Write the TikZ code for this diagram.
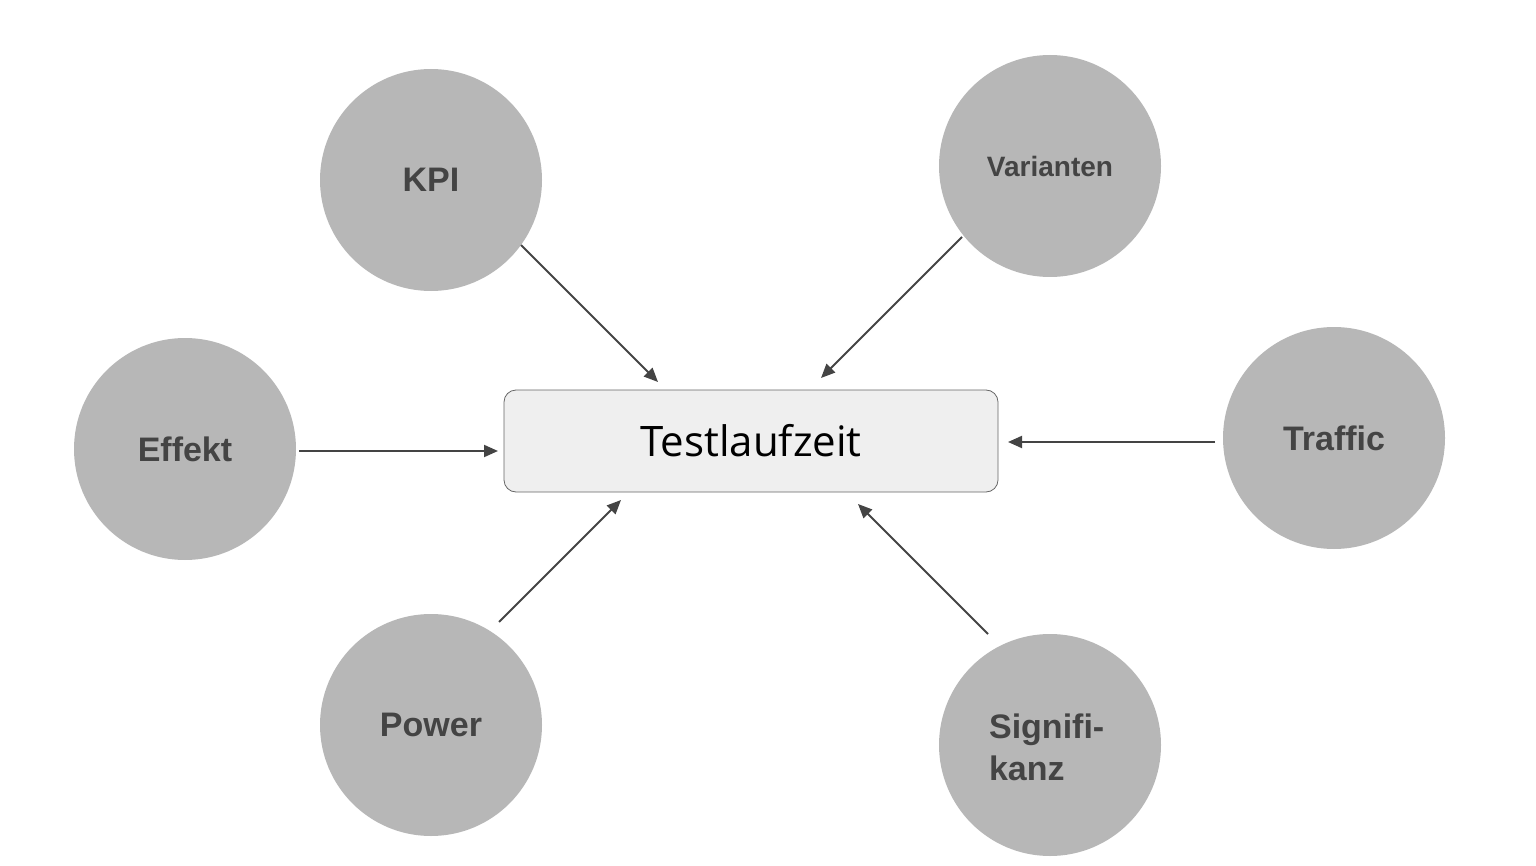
\documentclass[tikz,border=0pt]{standalone}
\usepackage{fontspec}
\setmainfont{Liberation Sans}
\newfontfamily\boxfont{Open Sans}
\usetikzlibrary{arrows.meta}
\definecolor{circfill}{HTML}{B7B7B7}
\definecolor{txtgray}{HTML}{444444}
\definecolor{boxfill}{HTML}{EFEFEF}
\tikzset{
  bubble/.style={circle,fill=circfill,minimum size=111pt,inner sep=0pt,text=txtgray,font=\bfseries\fontsize{17}{20}\selectfont},
  arr/.style={draw=txtgray,line width=1pt,-{Triangle[length=7pt,width=6pt]}}
}
\begin{document}
\begin{tikzpicture}[x=0.5pt,y=-0.5pt]
\useasboundingbox (0,0) rectangle (1536,866);
\node[bubble] (kpi) at (431,180) {KPI};
\node[bubble,font=\bfseries\fontsize{14}{17}\selectfont] (var) at (1050,166) {Varianten};
\node[bubble] (eff) at (185,449) {Effekt};
\node[bubble] (tra) at (1334,438) {Traffic};
\node[bubble] (pow) at (431,725) {Power};
\node[bubble] (sig) at (1050,745) {};
\node[text=txtgray,font=\bfseries\fontsize{17}{21}\selectfont,align=left,anchor=west] (sigt) at (982,747) {Signifi-\\kanz};
\node[draw=gray!80!black,fill=boxfill,rounded corners=6pt,minimum width=247pt,minimum height=51pt,font=\boxfont\fontsize{21}{24}\selectfont] (box) at (751,441) {Testlaufzeit};
\coordinate (a1) at (521,245); \coordinate (b1) at (658,382);
\coordinate (a2) at (962,237); \coordinate (b2) at (821,378);
\coordinate (a3) at (299,451); \coordinate (b3) at (498,451);
\coordinate (a4) at (1215,442); \coordinate (b4) at (1008,442);
\coordinate (a5) at (499,622); \coordinate (b5) at (621,500);
\coordinate (a6) at (988,634); \coordinate (b6) at (858,504);
\foreach \i in {1,...,6} \draw[arr] (a\i) -- (b\i);
\end{tikzpicture}
\end{document}
